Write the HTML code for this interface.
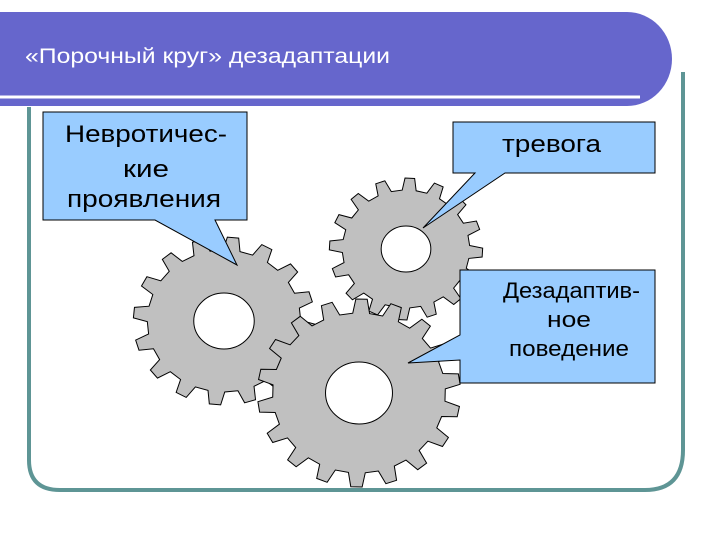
<!DOCTYPE html>
<html><head><meta charset="utf-8"><style>
html,body{margin:0;padding:0;background:#fff;}
svg{display:block;}
text{font-family:"Liberation Sans",sans-serif;}
</style></head><body>
<svg id="s" width="720" height="540" viewBox="0 0 720 540" xmlns="http://www.w3.org/2000/svg">
<path d="M29,107 V460 Q29,490 60,490 H645 Q683,490 683,450 V72" fill="none" stroke="#5e9595" stroke-width="4"/>
<path d="M0,12 H627 A45,47 0 0 1 627,106 H0 Z" fill="#6666cc"/>
<line x1="0" y1="97" x2="640" y2="97" stroke="#fff" stroke-width="3"/>
<text x="25" y="63" font-size="21" fill="#fff" textLength="365" lengthAdjust="spacingAndGlyphs">«Порочный круг» дезадаптации</text>
<g id="gears" fill="#c0c0c0" stroke="#000" stroke-width="1"></g>
<g stroke="#000" stroke-width="1" fill="#99ccff">
<path d="M43,112 H247 V220 H215 L237,265 L155,220 H43 Z"/>
<path d="M453,122 H655 V173 H505 L423,228 L475,173 H453 Z"/>
<path d="M460,270 H655 V383 H460 V360 L408,363 L460,335 Z"/>
</g>
<g font-size="24" fill="#000" lengthAdjust="spacingAndGlyphs">
<text x="65" y="142" textLength="162" lengthAdjust="spacingAndGlyphs">Невротичес-</text>
<text x="123" y="177" textLength="46" lengthAdjust="spacingAndGlyphs">кие</text>
<text x="67" y="207" textLength="154" lengthAdjust="spacingAndGlyphs">проявления</text>
<text x="502" y="152" textLength="99" lengthAdjust="spacingAndGlyphs">тревога</text>
</g>
<g font-size="22" fill="#000">
<text x="503" y="298" textLength="137" lengthAdjust="spacingAndGlyphs">Дезадаптив-</text>
<text x="547" y="327" textLength="44" lengthAdjust="spacingAndGlyphs">ное</text>
<text x="509" y="356" textLength="120" lengthAdjust="spacingAndGlyphs">поведение</text>
</g>
</svg>
<script>
function gear(cx,cy,R,depth,n,hole,rot){
 var r=R-depth,p=[],st=2*Math.PI/n;
 for(var i=0;i<n;i++){
  var a=i*st+rot;
  var pts=[[r,a-st*0.28],[R,a-st*0.16],[R,a+st*0.16],[r,a+st*0.28]];
  pts.forEach(function(q){p.push((q[0]*Math.cos(q[1])).toFixed(1)+","+(q[0]*Math.sin(q[1])).toFixed(1));});
 }
 var d="M"+p.join(" L")+" Z M"+hole+",0 A"+hole+","+hole+" 0 1 0 "+(-hole)+",0 A"+hole+","+hole+" 0 1 0 "+hole+",0 Z";
 return '<path transform="translate('+cx+','+cy+') scale(1.08,1)" fill-rule="evenodd" vector-effect="non-scaling-stroke" d="'+d+'"/>';
}
document.getElementById("gears").innerHTML=
 gear(224,321,84,13,16,28,0.1)+gear(406,249,71,12,16,23,0.05)+gear(359,393,94,14,18,31,0.2);
</script>
</body></html>
